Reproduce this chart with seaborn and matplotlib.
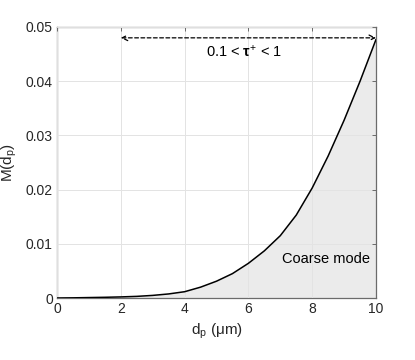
import numpy as np
import pandas as pd
import seaborn as sns
import matplotlib
matplotlib.use("Agg")
import matplotlib.pyplot as plt

# particle diameter (um) and mass distribution
dp = [0, 0.5, 1, 1.5, 2, 2.5, 3, 3.5, 4, 4.5, 5, 5.5, 6, 6.5, 7,
      7.5, 8, 8.5, 9, 9.5, 10]
mass = [0, 0.00003, 0.00008, 0.00013, 0.0002, 0.0003, 0.00048, 0.00075,
        0.00116, 0.0020, 0.0031, 0.0045, 0.0064, 0.0087, 0.0115, 0.0153,
        0.0203, 0.0262, 0.0328, 0.0400, 0.0477]
xticks = [0, 2, 4, 6, 8, 10]
yticks = [0, 0.01, 0.02, 0.03, 0.04, 0.05]

sns.set_style("whitegrid")
plt.rcParams["font.family"] = ["Liberation Sans", "DejaVu Sans"]
plt.rcParams["mathtext.fontset"] = "custom"
plt.rcParams["mathtext.rm"] = "Liberation Sans"
plt.rcParams["mathtext.it"] = "Liberation Sans"
plt.rcParams["mathtext.bf"] = "Liberation Sans:bold"

df = pd.DataFrame({"dp": dp, "M": mass})

fig = plt.figure(figsize=(4.15, 3.6), dpi=100)
ax = fig.add_axes([57 / 415, 62 / 360, 319 / 415, 271 / 360])

ax.fill_between(df["dp"], df["M"], 0, color="#ebebeb", zorder=1)
sns.lineplot(data=df, x="dp", y="M", color="black", linewidth=1.1, ax=ax, zorder=3)

ax.set_xlim(0, 10)
ax.set_ylim(0, 0.05)
ax.set_xticks(xticks)
ax.set_yticks(yticks)
ax.set_xticklabels([str(t) for t in xticks])
ax.set_yticklabels(["0", "0.01", "0.02", "0.03", "0.04", "0.05"])
ax.grid(True, color="#e3e3e3", linewidth=0.7)
ax.set_axisbelow(False)
for s in ax.spines.values():
    s.set_color("#6b6b6b")
    s.set_linewidth(0.9)
    s.set_visible(True)
ax.tick_params(direction="in", length=3, width=0.7, color="#6b6b6b",
               top=True, right=True, labelsize=10, pad=3, labelcolor="#262626")

ax.set_xlabel(r"d$_{\rm p}$ ($\mu$m)", fontsize=11, color="#262626", labelpad=4)
ax.set_ylabel(r"M(d$_{\rm p}$)", fontsize=11, color="#262626", labelpad=5)

ax.annotate("", xy=(10, 0.048), xytext=(2, 0.048),
            arrowprops=dict(arrowstyle="<->", linestyle=(0, (3, 2)),
                            color="black", lw=0.9, shrinkA=0, shrinkB=0),
            zorder=4)
ax.text(5.85, 0.0455, r"0.1 < $\mathbf{\tau}^{+}$ < 1", ha="center", va="center",
        fontsize=10.5, color="black")
ax.text(9.82, 0.0072, "Coarse mode", ha="right", va="center",
        fontsize=10.5, color="black")

fig.savefig("out.png", dpi=100)
